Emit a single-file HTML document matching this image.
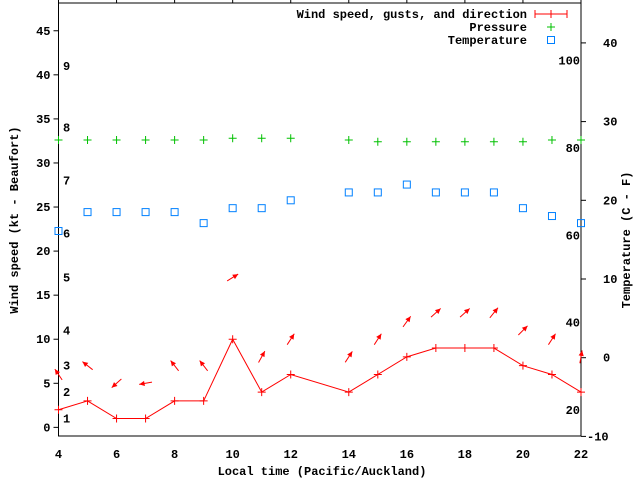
<!DOCTYPE html>
<html><head><meta charset="utf-8"><style>
body{margin:0;background:#fff}
svg{display:block}
text{font-family:"Liberation Mono",monospace;font-size:12px;font-weight:bold;fill:#000}
</style></head><body>
<svg id="chart" width="640" height="480" viewBox="0 0 640 480" xmlns="http://www.w3.org/2000/svg"></svg>
<script>
const hours = [4,5,6,7,8,9,10,11,12,14,15,16,17,18,19,20,21,22];
const windSpeed = [2,3,1,1,3,3,10,4,6,4,6,8,9,9,9,7,6,4];
const arrowLevel = [6,7,5,5,7,7,17,8,10,8,10,12,13,13,13,11,10,8];
const windDirDeg = [124,142,222,190,128,128,32,61,57,57,57,54,42,42,51,45,57,80];
const pressure = [32.6,32.6,32.6,32.6,32.6,32.6,32.8,32.8,32.8,32.6,32.4,32.4,32.4,32.4,32.4,32.4,32.6,32.6];
const temperatureC = [16.1,18.5,18.5,18.5,18.5,17.1,19,19,20,21,21,22,21,21,21,19,18,17.1];
const xTicks = [4,6,8,10,12,14,16,18,20,22];
const yTicks = [0,5,10,15,20,25,30,35,40,45];
const cTicks = [-10,0,10,20,30,40];
const fTicks = [20,40,60,80,100];
const beaufortLabels = [1,2,3,4,5,6,7,8,9];
const beaufortKt = [1,4,7,11,17,22,28,34,41];

const L=58.5,R=581,T=3,B=436;
const X=h=>L+(h-4)*(R-L)/18;
const Y=v=>B-(v+0.98)*(B-T)/49.13;
const YC=c=>357.7-c*7.87;
const YF=f=>YC((f-32)*5/9);
const svg=document.getElementById('chart');
const NS='http://www.w3.org/2000/svg';
function mk(tag,attrs,parent){const e=document.createElementNS(NS,tag);for(const k in attrs)e.setAttribute(k,attrs[k]);(parent||svg).appendChild(e);return e;}
function txt(x,y,s,anchor){const t=mk('text',{x:x,y:y,'text-anchor':anchor||'start'});t.textContent=s;return t;}

// frame
const frame=mk('rect',{x:L,y:T,width:R-L,height:B-T,fill:'none',stroke:'#000','stroke-width':1});



xTicks.forEach(h=>{
  const t=mk('line',{x1:X(h),x2:X(h),y1:0,y2:T,stroke:'#000'});
  
  
  const l=txt(X(h),458,String(h),'middle');
  
  
});
yTicks.forEach(v=>{
  const t=mk('line',{x1:L-5,x2:L,y1:Y(v),y2:Y(v),stroke:'#000'});
  
  
  const l=txt(L-8,Y(v)+4,String(v),'end');
  
  
});
cTicks.forEach(c=>{
  const t=mk('line',{x1:R,x2:R+5,y1:YC(c),y2:YC(c),stroke:'#000'});
  
  
  const l=txt(c<0?R+6:R+22,YC(c)+4,String(c),'start');
  
  
});
fTicks.forEach(f=>{
  const l=txt(R-1,YF(f)+4,String(f),'end');
  
  
});
beaufortLabels.forEach((b,i)=>{
  const l=txt(63,Y(beaufortKt[i])+4,String(b),'start');
  
  
});

// axis titles
let t=txt(322,475,'Local time (Pacific/Auckland)','middle');


t=txt(0,0,'Wind speed (kt - Beaufort)','middle');
t.setAttribute('transform','translate(18,220) rotate(-90)');


t=txt(0,0,'Temperature (C - F)','middle');
t.setAttribute('transform','translate(630,240) rotate(-90)');



// pressure
pressure.forEach((p,i)=>{
  const g=mk('path',{d:`M${X(hours[i])-4},${Y(p)}h8M${X(hours[i])},${Y(p)-4}v8`,stroke:'#00c000','stroke-width':1});
  
  
});
// temperature
temperatureC.forEach((c,i)=>{
  const r=mk('rect',{x:X(hours[i])-3.5,y:YC(c)-3.5,width:7,height:7,fill:'none',stroke:'#0080ff','stroke-width':1});
  
  
});
// wind line
const pl=mk('polyline',{points:hours.map((h,i)=>X(h)+','+Y(windSpeed[i])).join(' '),fill:'none',stroke:'#f00','stroke-width':1});


windSpeed.forEach((w,i)=>{
  const g=mk('path',{d:`M${X(hours[i])-4},${Y(w)}h8M${X(hours[i])},${Y(w)-4}v8`,stroke:'#f00','stroke-width':1});
  
  
});
// arrows
windDirDeg.forEach((d,i)=>{
  const a=d*Math.PI/180,cx=X(hours[i]),cy=Y(arrowLevel[i]);
  const dx=Math.cos(a)*6.5,dy=-Math.sin(a)*6.5;
  const hx=cx+dx,hy=cy+dy;
  const back=a+Math.PI;
  const p1x=hx+Math.cos(back+0.45)*6,p1y=hy-Math.sin(back+0.45)*6;
  const p2x=hx+Math.cos(back-0.45)*6,p2y=hy-Math.sin(back-0.45)*6;
  const g=mk('g',{});
  
  
  mk('line',{x1:cx-dx,y1:cy-dy,x2:hx,y2:hy,stroke:'#f00'},g);
  mk('polygon',{points:`${hx},${hy} ${p1x},${p1y} ${p2x},${p2y}`,fill:'#f00'},g);
});

// legend
const lg=mk('g',{});


let e=txt(527,18,'Wind speed, gusts, and direction','end');lg.appendChild(e);


mk('path',{d:'M535,14h32M535,10v8M567,10v8M551,10v8',stroke:'#f00'},lg);
e=txt(527,31,'Pressure','end');lg.appendChild(e);


mk('path',{d:'M547,27h8M551,23v8',stroke:'#00c000'},lg);
e=txt(527,44,'Temperature','end');lg.appendChild(e);


mk('rect',{x:547.5,y:36.5,width:7,height:7,fill:'none',stroke:'#0080ff'},lg);
</script>
</body></html>
